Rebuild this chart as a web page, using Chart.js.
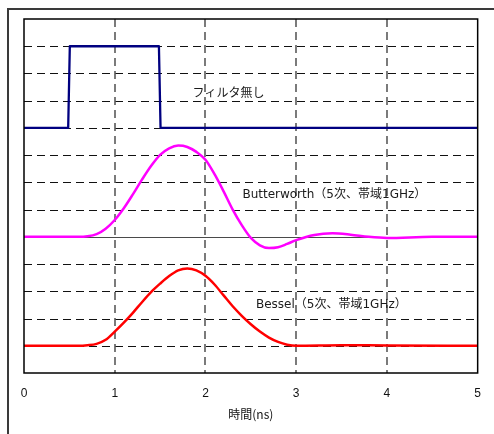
<!DOCTYPE html>
<html>
<head>
<meta charset="utf-8">
<script src="https://cdn.jsdelivr.net/npm/chart.js@4/dist/chart.umd.min.js"></script>
<style>
  html, body { margin: 0; padding: 0; background: #ffffff; }
  canvas { display: block; }
</style>
</head>
<body>
<canvas id="c" width="494" height="434"></canvas>
<script>
// Time axis (ns) and the three stacked traces, each shifted to its own band
const xTicks = [0, 1, 2, 3, 4, 5];

// Unfiltered square pulse
const pulseT = [0, 0.487, 0.505, 1.487, 1.505, 5];
const pulseV = [9, 9, 12, 12, 9, 9];

// 5th-order Butterworth, 1 GHz
const butterT = [0, 0.6, 0.7, 0.8, 0.9, 1.0, 1.1, 1.2, 1.3, 1.4, 1.5, 1.6, 1.7, 1.8, 1.9, 2.0,
                 2.1, 2.2, 2.3, 2.4, 2.5, 2.6, 2.7, 2.8, 2.9, 3.0, 3.2, 3.4, 3.6, 3.8, 4.0, 4.5, 5.0];
const butterV = [5.0, 5.0, 5.02, 5.1, 5.3, 5.62, 6.05, 6.56, 7.1, 7.6, 8.01, 8.25, 8.35, 8.3, 8.12, 7.83,
                 7.3, 6.67, 6.0, 5.43, 4.96, 4.69, 4.59, 4.62, 4.74, 4.88, 5.07, 5.13, 5.08, 5.0, 4.96, 5.0, 5.0];

// 5th-order Bessel, 1 GHz
const besselT = [0, 0.6, 0.7, 0.8, 0.9, 1.0, 1.1, 1.2, 1.3, 1.4, 1.5, 1.6, 1.7, 1.8, 1.9, 2.0,
                 2.1, 2.2, 2.3, 2.4, 2.5, 2.6, 2.7, 2.8, 2.9, 3.0, 3.5, 4.0, 5.0];
const besselV = [1.0, 1.0, 1.02, 1.07, 1.22, 1.52, 1.85, 2.21, 2.6, 2.97, 3.28, 3.56, 3.77, 3.84, 3.77, 3.57,
                 3.25, 2.85, 2.45, 2.1, 1.79, 1.52, 1.3, 1.14, 1.04, 1.0, 1.02, 1.01, 1.0];

// Vertical band grid (no labels on this axis)
const yGridValues = [1, 2, 3, 4, 5, 6, 7, 8, 9, 10, 11, 12];
const yZeroLine = 5;

// Trace captions and where they sit (in axis units)
const captionTexts = ['フィルタ無し', 'Butterworth（5次、帯域1GHz）', 'Bessel（5次、帯域1GHz）'];
const captionAt = [[1.857, 10.25], [2.407, 6.54], [2.557, 2.5]];

const toPoints = (t, v) => t.map((x, i) => ({ x: x, y: v[i] }));

const CJK = '"Noto Sans CJK JP", "Noto Sans", sans-serif';
const CAPTION_FONT = '"DejaVu Sans", "Noto Sans CJK JP", sans-serif';

const framePlugin = {
  id: 'frame',
  beforeDraw(chart) {
    const ctx = chart.ctx;
    ctx.save();
    ctx.fillStyle = '#ffffff';
    ctx.fillRect(0, 0, chart.width, chart.height);
    ctx.strokeStyle = '#3a3a3a';
    ctx.lineWidth = 2;
    ctx.beginPath();
    ctx.moveTo(8, chart.height + 2);
    ctx.lineTo(8, 9);
    ctx.lineTo(chart.width + 2, 9);
    ctx.stroke();
    ctx.restore();
  },
  beforeDatasetsDraw(chart) {
    const ctx = chart.ctx;
    const xs = chart.scales.x, ys = chart.scales.y;
    const a = chart.chartArea;
    ctx.save();
    // horizontal band lines
    yGridValues.forEach(v => {
      const y = Math.round(ys.getPixelForValue(v)) + 0.5;
      ctx.beginPath();
      if (v === yZeroLine) {
        ctx.setLineDash([]);
        ctx.strokeStyle = '#4a4a4a';
      } else {
        ctx.setLineDash([8, 5]);
        ctx.strokeStyle = '#111111';
      }
      ctx.lineWidth = 1;
      ctx.moveTo(a.left, y);
      ctx.lineTo(a.right, y);
      ctx.stroke();
    });
    // vertical time lines
    xTicks.slice(1, -1).forEach(v => {
      const x = Math.round(xs.getPixelForValue(v));
      ctx.beginPath();
      ctx.setLineDash([8, 5]);
      ctx.strokeStyle = '#5a5a5a';
      ctx.lineWidth = 1.6;
      ctx.moveTo(x, a.top);
      ctx.lineTo(x, a.bottom);
      ctx.stroke();
    });
    ctx.restore();
  },
  afterDatasetsDraw(chart) {
    const ctx = chart.ctx;
    const xs = chart.scales.x, ys = chart.scales.y;
    const a = chart.chartArea;
    ctx.save();
    ctx.setLineDash([]);
    ctx.strokeStyle = '#000000';
    ctx.lineWidth = 1.5;
    ctx.strokeRect(a.left, a.top, a.right - a.left, a.bottom - a.top);
    ctx.fillStyle = '#1a1a1a';
    ctx.font = '12px ' + CAPTION_FONT;
    ctx.textAlign = 'left';
    ctx.textBaseline = 'middle';
    captionTexts.forEach((t, i) => {
      ctx.fillText(t, xs.getPixelForValue(captionAt[i][0]), ys.getPixelForValue(captionAt[i][1]));
    });
    ctx.restore();
  }
};

new Chart(document.getElementById('c'), {
  type: 'line',
  data: {
    datasets: [
      { label: 'フィルタ無し', data: toPoints(pulseT, pulseV), borderColor: '#000080', borderWidth: 2.3,
        tension: 0, pointRadius: 0 },
      { label: 'Butterworth', data: toPoints(butterT, butterV), borderColor: '#ff00ff', borderWidth: 2.5,
        cubicInterpolationMode: 'monotone', pointRadius: 0 },
      { label: 'Bessel', data: toPoints(besselT, besselV), borderColor: '#ff0000', borderWidth: 2.5,
        cubicInterpolationMode: 'monotone', pointRadius: 0 }
    ]
  },
  options: {
    responsive: false,
    animation: false,
    devicePixelRatio: 1,
    layout: { padding: { left: 0, top: 19, right: 15, bottom: 0 } },
    plugins: { legend: { display: false }, tooltip: { enabled: false } },
    elements: { line: { fill: false, borderJoinStyle: 'round' } },
    scales: {
      x: {
        type: 'linear', min: 0, max: 5,
        grid: { display: false, drawTicks: false },
        border: { display: false },
        afterBuildTicks: s => { s.ticks = xTicks.map(v => ({ value: v })); },
        ticks: { color: '#111111', font: { family: '"Liberation Sans", Arial, sans-serif', size: 12 },
                 padding: 13, maxRotation: 0, autoSkip: false },
        title: { display: true, text: '時間(ns)', color: '#111111',
                 font: { family: CJK, size: 12 }, padding: { top: 0, bottom: 12 } },
        afterFit: s => { s.height = 61; }
      },
      y: {
        type: 'linear', min: 0, max: 13,
        grid: { display: false, drawTicks: false },
        border: { display: false },
        ticks: { display: false },
        afterFit: s => { s.width = 24; }
      }
    }
  },
  plugins: [framePlugin]
});
</script>
</body>
</html>
